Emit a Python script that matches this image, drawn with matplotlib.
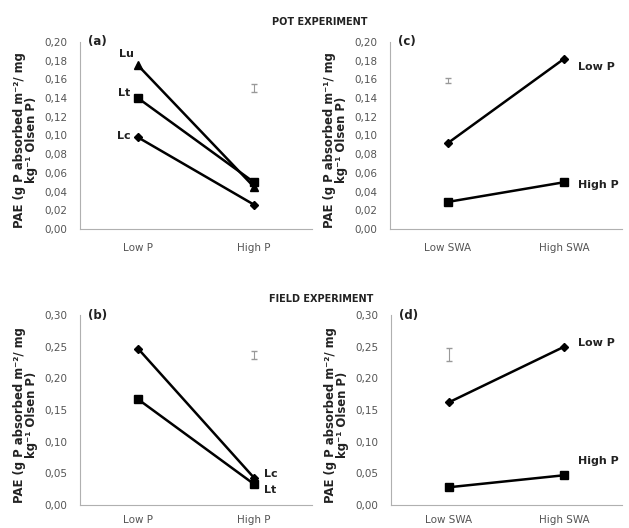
import matplotlib
matplotlib.use("Agg")
import matplotlib.pyplot as plt

plt.rcParams['font.family'] = ['DejaVu Sans']

# ---- data ----
cats_p = ["Low P", "High P"]
cats_swa = ["Low SWA", "High SWA"]

# (a) pot experiment, species vs P
a_Lu = [0.175, 0.045]
a_Lt = [0.140, 0.050]
a_Lc = [0.098, 0.026]
a_err_y, a_err = 0.151, 0.004

# (c) pot experiment, SWA
c_lowP = [0.092, 0.182]
c_highP = [0.029, 0.050]
c_err_y, c_err = 0.159, 0.003

# (b) field experiment
b_Lc = [0.247, 0.043]
b_Lt = [0.167, 0.033]
b_err_y, b_err = 0.237, 0.006

# (d) field experiment, SWA
d_lowP = [0.162, 0.250]
d_highP = [0.028, 0.047]
d_err_y, d_err = 0.238, 0.010

yticks_top = [0.00, 0.02, 0.04, 0.06, 0.08, 0.10, 0.12, 0.14, 0.16, 0.18, 0.20]
yticks_bot = [0.00, 0.05, 0.10, 0.15, 0.20, 0.25, 0.30]

W, H = 629, 528
fig = plt.figure(figsize=(W / 100, H / 100), dpi=100)
fig.patch.set_facecolor('white')

def px_axes(left, top, right, bottom):
    return fig.add_axes([left / W, (H - bottom) / H, (right - left) / W, (bottom - top) / H])

xpos = [0.5, 1.5]
spine_c = '#b0b0b0'
tick_c = '#555555'
txt_c = '#222222'

def style(ax, yticks, ymax, cats, ylabel, panel, xpad):
    ax.set_xlim(0, 2)
    ax.set_ylim(0, ymax)
    for s in ['top', 'right']:
        ax.spines[s].set_visible(False)
    for s in ['left', 'bottom']:
        ax.spines[s].set_color(spine_c)
        ax.spines[s].set_linewidth(0.8)
    ax.set_yticks(yticks)
    ax.set_yticklabels([f"{v:.2f}".replace('.', ',') for v in yticks], fontsize=7.5, color=tick_c)
    ax.set_xticks(xpos)
    ax.set_xticklabels(cats, fontsize=7.5, color=tick_c)
    ax.tick_params(axis='both', length=0)
    ax.tick_params(axis='x', pad=xpad)
    ax.tick_params(axis='y', pad=9)
    ax.set_ylabel(ylabel, fontsize=8.4, fontweight='bold', color=txt_c, linespacing=0.95)
    ax.yaxis.set_label_coords(-0.181, 0.475)
    ax.text(0.035, 1.0, panel, transform=ax.transAxes, fontsize=8.5, fontweight='bold',
            ha='left', va='center', color=txt_c)

ylab2 = "PAE (g P absorbed m\u207b\u00b2/ mg\nkg\u207b\u00b9 Olsen P)"
ylab1 = "PAE (g P absorbed m\u207b\u00b9/ mg\nkg\u207b\u00b9 Olsen P)"

lw = 1.8
ecol = '#999999'

def lab(ax, text, xy, dx, dy, ha='left'):
    ax.annotate(text, xy, xytext=(dx, dy), textcoords='offset points',
                fontsize=8, fontweight='bold', ha=ha, va='center', color=txt_c)

# (a)
ax = px_axes(80, 42, 312, 229)
style(ax, yticks_top, 0.20, cats_p, ylab2, "(a)", 10)
ax.plot(xpos, a_Lu, color='black', lw=lw, marker='^', ms=6)
ax.plot(xpos, a_Lt, color='black', lw=lw, marker='s', ms=6)
ax.plot(xpos, a_Lc, color='black', lw=lw, marker='D', ms=4)
ax.errorbar([1.5], [a_err_y], yerr=[a_err], color=ecol, capsize=2, lw=0.8)
lab(ax, "Lu", (xpos[0], a_Lu[0]), -8, 8, ha='center')
lab(ax, "Lt", (xpos[0], a_Lt[0]), -10, 4, ha='center')
lab(ax, "Lc", (xpos[0], a_Lc[0]), -10, 1, ha='center')

# (c)
ax = px_axes(390, 42, 622, 229)
style(ax, yticks_top, 0.20, cats_swa, ylab1, "(c)", 10)
ax.plot(xpos, c_lowP, color='black', lw=lw, marker='D', ms=4)
ax.plot(xpos, c_highP, color='black', lw=lw, marker='s', ms=6)
ax.errorbar([0.5], [c_err_y], yerr=[c_err], color=ecol, capsize=2, lw=0.8)
lab(ax, "Low P", (xpos[1], c_lowP[1]), 10, -6)
lab(ax, "High P", (xpos[1], c_highP[1]), 10, -2)

# (b)
ax = px_axes(80, 315, 312, 505)
style(ax, yticks_bot, 0.30, cats_p, ylab2, "(b)", 7)
ax.plot(xpos, b_Lc, color='black', lw=lw, marker='D', ms=4)
ax.plot(xpos, b_Lt, color='black', lw=lw, marker='s', ms=6)
ax.errorbar([1.5], [b_err_y], yerr=[b_err], color=ecol, capsize=2, lw=0.8)
lab(ax, "Lc", (xpos[1], b_Lc[1]), 7, 3)
lab(ax, "Lt", (xpos[1], b_Lt[1]), 7, -4)

# (d)
ax = px_axes(391, 315, 622, 505)
style(ax, yticks_bot, 0.30, cats_swa, ylab2, "(d)", 7)
ax.plot(xpos, d_lowP, color='black', lw=lw, marker='D', ms=4)
ax.plot(xpos, d_highP, color='black', lw=lw, marker='s', ms=6)
ax.errorbar([0.5], [d_err_y], yerr=[d_err], color=ecol, capsize=2, lw=0.8)
lab(ax, "Low P", (xpos[1], d_lowP[1]), 10, 3)
lab(ax, "High P", (xpos[1], d_highP[1]), 10, 10)

fig.text(320 / W, 1 - 22 / H, "POT EXPERIMENT", fontsize=7, fontweight='bold',
         ha='center', va='center', color=txt_c)
fig.text(321 / W, 1 - 299 / H, "FIELD EXPERIMENT", fontsize=7, fontweight='bold',
         ha='center', va='center', color=txt_c)

fig.savefig("out.png", dpi=100, facecolor='white')
